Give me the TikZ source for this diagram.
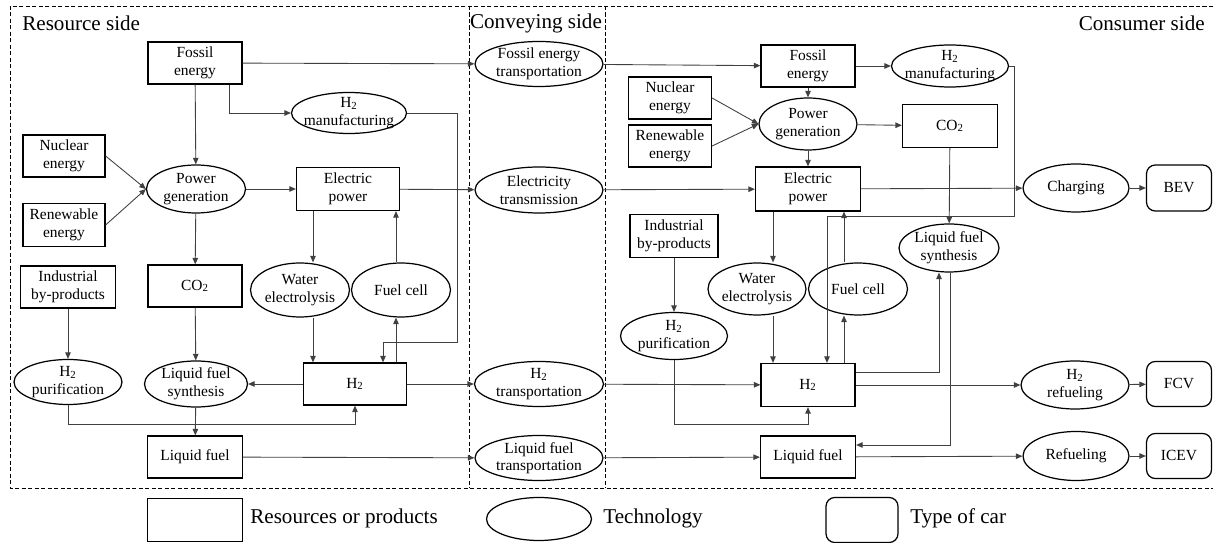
\documentclass[tikz,border=0pt]{standalone}
\usepackage{fontspec}
\setmainfont{Liberation Serif}
\usepackage{tikz}
\usetikzlibrary{shapes, arrows.meta, calc}

\tikzset{
    box/.style={draw, line width=0.7pt, minimum width=1.88cm, minimum height=0.84cm, inner sep=0pt, align=center, font=\fontsize{8.8}{10}\selectfont},
    tech/.style={ellipse, draw, line width=0.7pt, minimum width=2cm, minimum height=0.96cm, inner sep=-8pt, align=center, font=\fontsize{8.8}{10}\selectfont},
    car/.style={draw, line width=0.7pt, rounded corners=5pt, minimum width=1.3cm, minimum height=0.92cm, inner sep=0pt, font=\fontsize{8.8}{10}\selectfont},
    arr/.style={-{Triangle[length=1.3mm, width=1.1mm]}, black!75, line width=0.5pt},
    side/.style={inner sep=0pt, font=\fontsize{12}{14}\selectfont},
    sideframe/.style={line width=0.5pt, dash pattern=on 2.3pt off 1.4pt}
}

\begin{document}
\begin{tikzpicture}[x=0.02cm, y=-0.02cm]
    \useasboundingbox (0,0) rectangle (1214,543);
    \draw[sideframe] (1213,6) -- (10,6) -- (10,488) -- (1213,488);
    \draw[sideframe] (469,6) -- (469,488);
    \draw[sideframe] (605,6) -- (605,488);
    \node[side, anchor=west] (resLabel) at (22,23) {Resource side};
    \node[side] (convLabel) at (536,23) {Conveying side};
    \node[side, anchor=east] (consLabel) at (1205,23) {Consumer side};

    \node[box] (rFossil) at (195,63) {Fossil\\energy};
    \node[tech, minimum width=2.3cm, minimum height=0.82cm] (rH2m) at (349,113) {H\textsubscript{2}\\manufacturing};
    \node[box, minimum width=1.64cm] (rNuc) at (64,156) {Nuclear\\energy};
    \node[box, minimum width=1.64cm, minimum height=0.86cm] (rRen) at (64,225) {Renewable\\energy};
    \node[tech, minimum width=1.98cm] (rPG) at (196,189) {Power\\generation};
    \node[box, minimum width=2.06cm, minimum height=0.86cm] (rEP) at (348,189) {Electric\\power};
    \node[box, minimum width=1.9cm] (rInd) at (68,287) {Industrial\\by-products};
    \node[box] (rCO2) at (195,286) {CO\textsubscript{2}};
    \node[tech, minimum width=1.98cm, minimum height=1.08cm] (rWE) at (300,290) {Water\\electrolysis};
    \node[tech, minimum width=1.98cm, minimum height=1.08cm] (rFC) at (401,290) {Fuel cell};
    \node[tech, minimum width=2.16cm, minimum height=0.9cm] (rH2p) at (68,382) {H\textsubscript{2}\\purification};
    \node[tech, minimum width=2.06cm, minimum height=0.92cm] (rLFS) at (196,384) {Liquid fuel\\synthesis};
    \node[box, minimum width=2.06cm] (rH2) at (355,384) {H\textsubscript{2}};
    \node[box, minimum width=1.9cm] (rLF) at (195,457) {Liquid fuel};

    \node[tech, minimum width=2.56cm, minimum height=0.9cm] (cFossil) at (539,64) {Fossil energy\\transportation};
    \node[tech, minimum width=2.56cm, minimum height=0.92cm] (cElec) at (539,190) {Electricity\\transmission};
    \node[tech, minimum width=2.58cm, minimum height=0.9cm] (cH2) at (539,384) {H\textsubscript{2}\\transportation};
    \node[tech, minimum width=2.56cm, minimum height=0.9cm] (cLF) at (539,458) {Liquid fuel\\transportation};

    \node[box] (uFossil) at (808,66) {Fossil\\energy};
    \node[tech, minimum width=2.34cm, minimum height=0.84cm] (uH2m) at (950,66) {H\textsubscript{2}\\manufacturing};
    \node[box, minimum width=1.66cm] (uNuc) at (670,98) {Nuclear\\energy};
    \node[box, minimum width=1.66cm] (uRen) at (670,146) {Renewable\\energy};
    \node[tech, minimum width=1.96cm, minimum height=1.04cm] (uPG) at (808,124) {Power\\generation};
    \node[box, minimum width=1.9cm, minimum height=0.86cm] (uCO2) at (950,126) {CO\textsubscript{2}};
    \node[box, minimum width=2.1cm, minimum height=0.88cm] (uEP) at (808,189) {Electric\\power};
    \node[box, minimum width=1.76cm, minimum height=0.86cm] (uInd) at (674,236) {Industrial\\by-products};
    \node[tech, minimum width=1.96cm, minimum height=1.04cm] (uWE) at (757,289) {Water\\electrolysis};
    \node[tech, minimum width=1.98cm, minimum height=1.04cm] (uFC) at (858,289) {Fuel cell};
    \node[tech, minimum width=2cm, minimum height=0.96cm] (uLFS) at (949,248) {Liquid fuel\\synthesis};
    \node[tech, minimum width=2.14cm, minimum height=0.94cm] (uH2p) at (674,336) {H\textsubscript{2}\\purification};
    \node[box, minimum height=0.86cm] (uH2) at (808,385) {H\textsubscript{2}};
    \node[box, minimum width=1.9cm] (uLF) at (808,457) {Liquid fuel};
    \node[tech, minimum width=2.12cm] (uChg) at (1076,188) {Charging};
    \node[tech, minimum width=2.16cm] (uH2r) at (1075,385) {H\textsubscript{2}\\refueling};
    \node[tech, minimum width=2.12cm, minimum height=0.98cm] (uRef) at (1076,456) {Refueling};
    \node[car] (uBEV) at (1179,188) {BEV};
    \node[car, minimum height=0.9cm] (uFCV) at (1179,384) {FCV};
    \node[car, minimum height=0.9cm] (uICEV) at (1179,456) {ICEV};

    \node[box, minimum width=1.9cm, minimum height=0.86cm] (legBox) at (195,520) {};
    \node[side, anchor=west] (legBoxText) at (250,518) {Resources or products};
    \node[tech, minimum width=2.1cm, minimum height=0.86cm] (legTech) at (539,519) {};
    \node[side, anchor=west] (legTechText) at (603,518) {Technology};
    \node[car, minimum width=1.44cm, minimum height=0.9cm] (legCar) at (862,520) {};
    \node[side, anchor=west] (legCarText) at (910,518) {Type of car};

    \draw[arr] (rFossil) -- (cFossil);
    \draw[arr] (rFossil) -- (rPG);
    \draw[arr] ($(rFossil.south)+(34,0)$) |- (rH2m.west);
    \draw[arr] (rH2m.east) -- ++(50,0) -- ++(0,229) -| ($(rH2.north)+(28,0)$);
    \draw[arr] (rNuc.east) -- (rPG.west);
    \draw[arr] (rRen.east) -- (rPG.west);
    \draw[arr] (rPG) -- (rEP);
    \draw[arr] (rEP) -- (cElec);
    \draw[arr] (rPG) -- (rCO2);
    \draw[arr] ($(rEP.south)+(-35,0)$) -- ($(rWE.north)+(13,0)$);
    \draw[arr] ($(rFC.north)+(-5,0)$) -- ($(rEP.south)+(48,0)$);
    \draw[arr] ($(rWE.south)+(13,0)$) -- ($(rH2.north)+(-42,0)$);
    \draw[arr] ($(rH2.north)+(41,0)$) -- ($(rFC.south)+(-5,0)$);
    \draw[arr] (rInd) -- (rH2p);
    \draw[arr] (rCO2) -- (rLFS);
    \draw[arr] (rH2) -- (rLFS);
    \draw[arr] (rH2p.south) -- ++(0,19) -| (rH2.south);
    \draw[arr] (rLFS) -- (rLF);
    \draw[arr] (rH2) -- (cH2);
    \draw[arr] (rLF) -- (cLF);

    \draw[arr] (cFossil) -- (uFossil);
    \draw[arr] (cElec) -- (uEP);
    \draw[arr] (cH2) -- (uH2);
    \draw[arr] (cLF) -- (uLF);

    \draw[arr] (uFossil) -- (uH2m);
    \draw[arr] (uFossil) -- (uPG);
    \draw[arr] (uNuc.east) -- (uPG.west);
    \draw[arr] (uRen.east) -- (uPG.west);
    \draw[arr] (uPG) -- (uCO2);
    \draw[arr] (uPG) -- (uEP);
    \draw[arr] (uEP) -- (uChg);
    \draw[arr] (uChg) -- (uBEV);
    \draw[arr] (uH2r) -- (uFCV);
    \draw[arr] (uRef) -- (uICEV);
    \draw[arr] (uH2m.east) -- ++(5,0) -- ++(0,150) -| ($(uH2.north)+(19,0)$);
    \draw[arr] (uCO2) -- (uLFS);
    \draw[arr] ($(uEP.south)+(-35,0)$) -- ($(uWE.north)+(16,0)$);
    \draw[arr] ($(uFC.north)+(-14,0)$) -- ($(uEP.south)+(36,0)$);
    \draw[arr] ($(uWE.south)+(16,0)$) -- ($(uH2.north)+(-35,0)$);
    \draw[arr] ($(uH2.north)+(36,0)$) -- ($(uFC.south)+(-14,0)$);
    \draw[arr] ($(uH2.east)+(0,-13)$) -| ($(uLFS.south)+(-10,0)$);
    \draw[arr] ($(uLFS.south)+(1,0)$) |- ($(uLF.east)+(0,-12)$);
    \draw[arr] (uInd) -- (uH2p);
    \draw[arr] (uH2p.south) -- ++(0,64) -| (uH2.south);
    \draw[arr] (uH2) -- (uH2r);
    \draw[arr] (uLF) -- (uRef);
\end{tikzpicture}
\end{document}
